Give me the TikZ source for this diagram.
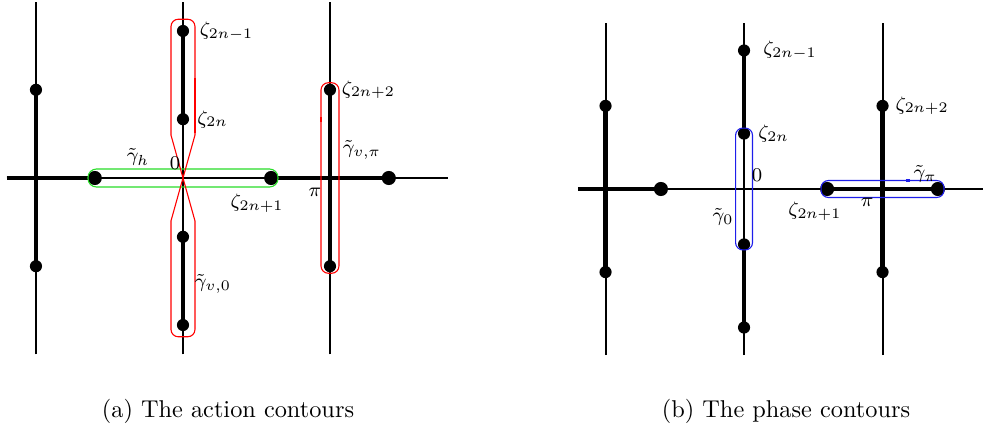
\documentclass[tikz,border=0pt]{standalone}
\usepackage{amsmath}
\usepackage{xcolor}
\usepackage{tikz}
\usetikzlibrary{positioning}
\definecolor{loopgreen}{RGB}{40, 220, 40}
\definecolor{loopblue}{RGB}{30, 30, 235}

\begin{document}
\begin{tikzpicture}[
    x=0.01445cm, y=0.01445cm,
    axis/.style={line width=0.8pt},
    cut/.style={line width=1.8pt},
    dot/.style={circle, fill=black, inner sep=0pt, minimum size=5pt},
    bigdot/.style={dot, minimum size=5.8pt},
    origindot/.style={circle, fill=black, inner sep=0pt, minimum size=1.6pt},
    lbl/.style={font=\footnotesize, inner sep=1pt},
    redloop/.style={draw=red, line width=0.45pt, rounded corners=3pt},
    greenloop/.style={draw=loopgreen, line width=0.45pt, rounded corners=3.5pt},
    blueloop/.style={draw=loopblue, line width=0.45pt, rounded corners=3pt},
    caption/.style={font=\normalsize}
]
\useasboundingbox (0,0) rectangle (983,428);

% (a) the action contours
\begin{scope}[shift={(2.644cm,3.6125cm)}, x=0.8497cm, y=0.8497cm]
\draw[axis] (-2.5,-3) -- (-2.5,3);
\draw[axis] (0,-3) -- (0,3);
\draw[axis] (2.5,-3) -- (2.5,3);
\draw[axis] (-3,0) -- (4.5,0);
\draw[cut] (-2.5,-1.5) -- (-2.5,1.5);
\draw[cut] (0,1) -- (0,2.5);
\draw[cut] (0,-1) -- (0,-2.5);
\draw[cut] (2.5,-1.5) -- (2.5,1.5);
\draw[cut] (-3,0) -- (-1.5,0);
\draw[cut] (1.5,0) -- (3.5,0);
\foreach \p/\n in {{(0,2.5)}/a1, {(0,1)}/a2, {(0,-1)}/a3, {(0,-2.5)}/a4,
                   {(2.5,1.5)}/a5, {(2.5,-1.5)}/a6, {(-2.5,1.5)}/a7, {(-2.5,-1.5)}/a8}
  \node[dot] (\n) at \p {};
\foreach \p/\n in {{(-1.5,0)}/a9, {(1.5,0)}/a10, {(3.5,0)}/a11}
  \node[bigdot] (\n) at \p {};
\node[origindot] (a0) at (0,0) {};

% contours
\draw[greenloop] (-1.616,-0.153) rectangle (1.616,0.153);
\draw[redloop] (-0.204,0.73) -- (-0.204,2.7) -- (0.204,2.7) -- (0.204,0.73);
\draw[redloop] (-0.204,-0.73) -- (-0.204,-2.7) -- (0.204,-2.7) -- (0.204,-0.73);
\draw[draw=red, line width=0.45pt] (0.204,0.73) -- (-0.204,-0.73);
\draw[draw=red, line width=0.45pt] (-0.204,0.73) -- (0.204,-0.73);
\draw[draw=red, line width=1pt] (0.204,1.7) -- (0.204,0.77);
\draw[redloop] (2.347,-1.62) rectangle (2.653,1.62);
\draw[draw=red, line width=0.9pt] (2.347,0.95) -- (2.347,1.03);

% labels
\node[lbl, right=3pt of a1] {$\zeta_{2n-1}$};
\node[lbl, right=2pt of a2] {$\zeta_{2n}$};
\node[lbl, right=1pt of a5] {$\zeta_{2n+2}$};
\node[lbl, anchor=west] at (2.67,0.48) {$\tilde{\gamma}_{v,\pi}$};
\node[lbl] at (-0.765,0.357) {$\tilde{\gamma}_h$};
\node[lbl] at (-0.136,0.255) {$0$};
\node[lbl] at (1.26,-0.425) {$\zeta_{2n+1}$};
\node[lbl] at (2.245,-0.238) {$\pi$};
\node[lbl] at (0.51,-1.80) {$\tilde{\gamma}_{v,0}$};
\end{scope}

% (b) the phase contours
\begin{scope}[shift={(10.751cm,3.4536cm)}, x=0.8005cm, y=0.8005cm]
\draw[axis] (-2.5,-3) -- (-2.5,3);
\draw[axis] (0,-3) -- (0,3);
\draw[axis] (2.5,-3) -- (2.5,3);
\draw[axis] (-3,0) -- (4.31,0);
\draw[cut] (-2.5,-1.5) -- (-2.5,1.5);
\draw[cut] (0,1) -- (0,2.5);
\draw[cut] (0,-1) -- (0,-2.5);
\draw[cut] (2.5,-1.5) -- (2.5,1.5);
\draw[cut] (-3,0) -- (-1.5,0);
\draw[cut] (1.5,0) -- (3.5,0);
\foreach \p/\n in {{(0,2.5)}/b1, {(0,1)}/b2, {(0,-1)}/b3, {(0,-2.5)}/b4,
                   {(2.5,1.5)}/b5, {(2.5,-1.5)}/b6, {(-2.5,1.5)}/b7, {(-2.5,-1.5)}/b8}
  \node[dot] (\n) at \p {};
\foreach \p/\n in {{(-1.5,0)}/b9, {(1.5,0)}/b10, {(3.5,0)}/b11}
  \node[bigdot] (\n) at \p {};
\node[origindot] (b0) at (0,0) {};

% contours
\draw[blueloop] (-0.153,-1.1) rectangle (0.153,1.1);
\draw[blueloop] (1.39,-0.153) rectangle (3.61,0.153);
\draw[draw=loopblue, line width=0.9pt] (2.92,0.153) -- (3.0,0.153);

% labels
\node[lbl, right=4pt of b1] {$\zeta_{2n-1}$};
\node[lbl, right=2pt of b2] {$\zeta_{2n}$};
\node[lbl, right=1.5pt of b5] {$\zeta_{2n+2}$};
\node[lbl] at (0.235,0.253) {$0$};
\node[lbl] at (-0.38,-0.505) {$\tilde{\gamma}_0$};
\node[lbl] at (1.28,-0.40) {$\zeta_{2n+1}$};
\node[lbl] at (2.22,-0.235) {$\pi$};
\node[lbl] at (3.27,0.27) {$\tilde{\gamma}_\pi$};
\end{scope}

\node[caption] (capa) at (228,17) {(a) The action contours};
\node[caption] (capb) at (786,17) {(b) The phase contours};

\end{tikzpicture}
\end{document}
